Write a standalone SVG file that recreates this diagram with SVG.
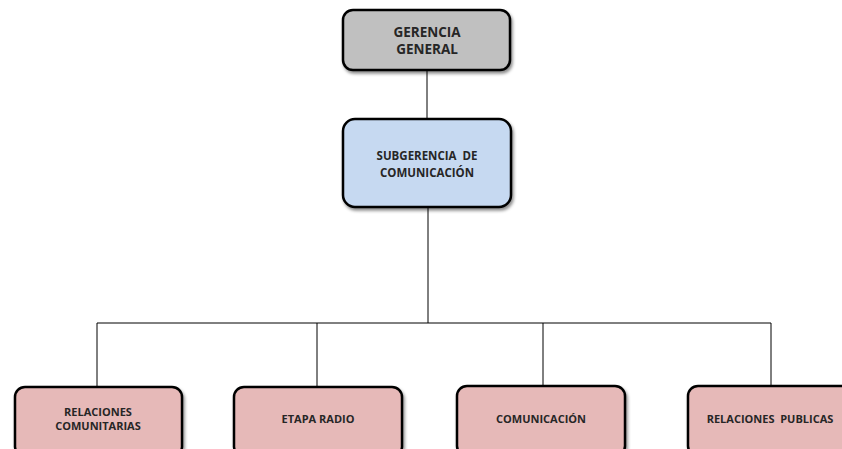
<svg xmlns="http://www.w3.org/2000/svg" width="842" height="449" viewBox="0 0 842 449">
<style>
.box{stroke:#000;stroke-width:2.5;filter:url(#sh)}
.g{fill:#c0c0c0}
.b{fill:#c6d9f1}
.p{fill:#e6b9b8}
.t{font-family:"Open Sans","Liberation Sans",sans-serif;font-weight:bold;fill:#262626;text-anchor:middle;white-space:pre}
.conn{stroke:#000;stroke-width:1;fill:none}
</style>
<defs>
<filter id="sh" x="-10%" y="-10%" width="125%" height="135%">
<feDropShadow dx="1.5" dy="2.5" stdDeviation="1.8" flood-color="#000" flood-opacity="0.45"/>
</filter>
</defs>
<rect width="842" height="449" fill="#fff"/>
<g id="connectors">
<path class="conn" d="M427 70V118"/>
<path class="conn" d="M428 207V323"/>
<path class="conn" d="M97 323H771"/>
<path class="conn" d="M97 323V387M317 323V387M543 323V387M771 323V387"/>
</g>
<g id="gerencia">
<rect class="box g" x="343" y="10" width="167" height="60" rx="10"/>
<text class="t" x="427" y="37" font-size="13.5">GERENCIA</text>
<text class="t" x="427" y="54" font-size="13.5">GENERAL</text>
</g>
<g id="subgerencia">
<rect class="box b" x="343" y="119" width="168" height="88" rx="12"/>
<text class="t" x="427" y="160" font-size="11.5">SUBGERENCIA  DE</text>
<text class="t" x="427" y="177" font-size="11.5">COMUNICACIÓN</text>
</g>
<g id="relaciones-comunitarias">
<rect class="box p" x="15" y="387" width="167" height="70" rx="10"/>
<text class="t" x="98" y="416" font-size="11">RELACIONES</text>
<text class="t" x="98" y="430" font-size="11">COMUNITARIAS</text>
</g>
<g id="etapa-radio">
<rect class="box p" x="234" y="387" width="168" height="70" rx="10"/>
<text class="t" x="318" y="423" font-size="11">ETAPA RADIO</text>
</g>
<g id="comunicacion">
<rect class="box p" x="457" y="386" width="168" height="70" rx="10"/>
<text class="t" x="541" y="423" font-size="11">COMUNICACIÓN</text>
</g>
<g id="relaciones-publicas">
<rect class="box p" x="688" y="386" width="168" height="70" rx="10"/>
<text class="t" x="770" y="423" font-size="11">RELACIONES  PUBLICAS</text>
</g>
</svg>
